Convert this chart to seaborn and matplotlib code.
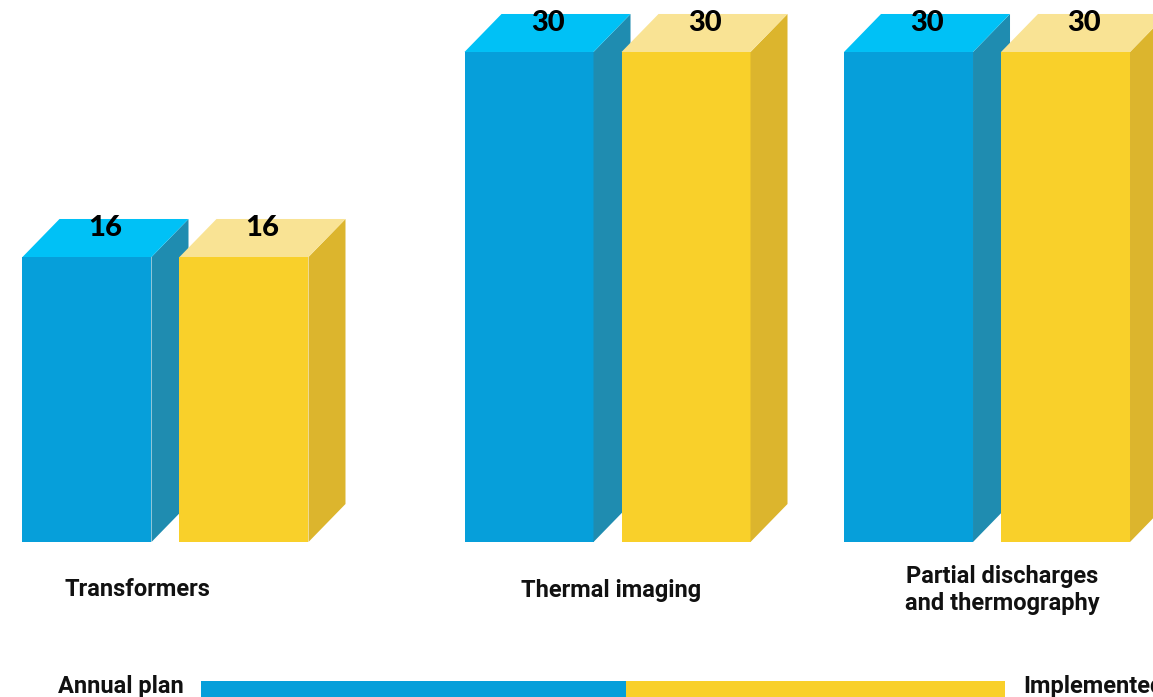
import numpy as np
import pandas as pd
import matplotlib
matplotlib.use("Agg")
import matplotlib.pyplot as plt
import matplotlib.transforms as mtransforms
from matplotlib.patches import Polygon, Rectangle
import seaborn as sns

# ---- data ----
categories = ["Transformers", "Thermal imaging", "Partial discharges\nand thermography"]
series = ["Annual plan", "Implemented"]
annual_plan = [16, 30, 30]
implemented = [16, 30, 30]

df = pd.DataFrame({
    "category": categories * 2,
    "series": [series[0]] * len(categories) + [series[1]] * len(categories),
    "value": annual_plan + implemented,
})

# ---- styling / layout ----
W, H = 1153, 697
DPI = 100
sns.set_theme(style="white")
plt.rcParams['font.family'] = ['Roboto', 'DejaVu Sans']

front = ["#069fda", "#f9d02a"]
side = ["#1f8cb0", "#dcb52d"]
top = ["#00c1f6", "#f9e394"]

fig = plt.figure(figsize=(W / DPI, H / DPI), dpi=DPI)
fig.patch.set_facecolor("white")
base_px = 542
ax = fig.add_axes([0, (H - base_px) / H, 1, base_px / H])

sns.barplot(data=df, x="category", y="value", hue="series", order=categories,
            hue_order=series, palette=front, width=0.7644, gap=0.1783,
            saturation=1, errorbar=None, legend=False, ax=ax)

xlim = (-0.4029, 2.4041)
ylim = (-3.463, 33.55)
ax.set_xlim(*xlim)
ax.set_ylim(*ylim)
ax.set_axis_off()

sx = W / (xlim[1] - xlim[0])          # px per x unit
sy = base_px / (ylim[1] - ylim[0])    # px per y unit
dx = 37 / sx
dy = 38 / sy

cat_shift = [0.0, 0.0761, 0.0]        # layout offsets of groups
label_x = [-0.0682, 1.0859, 2.0365]   # layout positions of category labels

values_by_series = [annual_plan, implemented]
for j, cont in enumerate(ax.containers):
    for k, bar in enumerate(cont):
        v = values_by_series[j][k]
        bar.set_x(bar.get_x() + cat_shift[k])
        bar.set_y(ylim[0])
        bar.set_height(v - ylim[0])
        bar.set_edgecolor("none")
        bar.set_linewidth(0)
        bar.set_zorder(2 + j)
        x0 = bar.get_x()
        x1 = x0 + bar.get_width()
        yb = ylim[0]
        yt = v
        sp = Polygon([(x1, yb), (x1 + dx, yb + dy), (x1 + dx, yt + dy), (x1, yt)],
                     closed=True, facecolor=side[j], edgecolor="none",
                     zorder=2 + j + 0.1, clip_on=False)
        tp = Polygon([(x0, yt), (x1, yt), (x1 + dx, yt + dy), (x0 + dx, yt + dy)],
                     closed=True, facecolor=top[j], edgecolor="none",
                     zorder=2 + j + 0.2, clip_on=False)
        ax.add_patch(sp)
        ax.add_patch(tp)
        ax.text((x0 + x1) / 2 + dx / 2, yt + 28.5 / sy, f"{v}",
                ha="center", va="center", fontsize=21, fontweight="black",
                family=["Lato", "DejaVu Sans"], color="black",
                zorder=10, clip_on=False)

# category labels
blend = mtransforms.blended_transform_factory(ax.transData, fig.transFigure)
for k, cat in enumerate(categories):
    ax.text(label_x[k], (H - 590) / H, cat, transform=blend, ha="center",
            va="center", fontsize=17, fontweight="bold", color="#111111",
            linespacing=1.2, clip_on=False)

# legend at bottom
fig.text(184 / W, (H - 686) / H, series[0], ha="right", va="center",
         fontsize=17, fontweight="bold", color="#111111")
fig.text(1023 / W, (H - 686) / H, series[1], ha="left", va="center",
         fontsize=17, fontweight="bold", color="#111111")
fig.patches.append(Rectangle((201 / W, -0.01), (626 - 201) / W, (697 - 681) / H + 0.01,
                             transform=fig.transFigure, facecolor=front[0],
                             edgecolor="none", figure=fig))
fig.patches.append(Rectangle((626 / W, -0.01), (1005 - 626) / W, (697 - 681) / H + 0.01,
                             transform=fig.transFigure, facecolor=front[1],
                             edgecolor="none", figure=fig))

fig.savefig("out.png", dpi=DPI, facecolor="white")
